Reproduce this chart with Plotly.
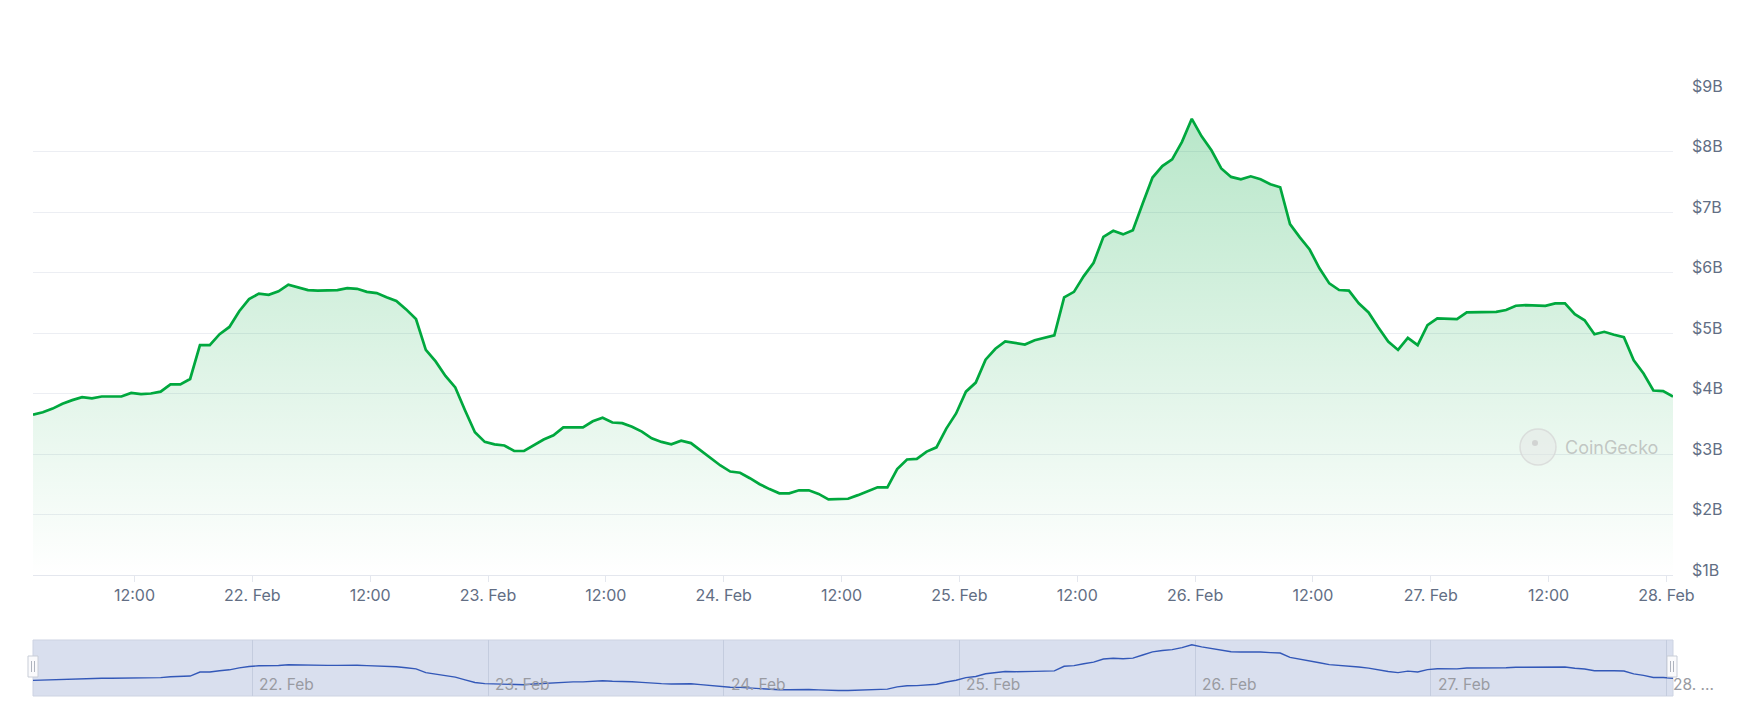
import plotly.graph_objects as go
import pandas as pd

# ---------------- data ----------------
start_time = "2025-02-21 01:40"
volume_billion = [
    3.65, 3.69, 3.75, 3.83, 3.89, 3.94, 3.92, 3.95, 3.95, 3.95, 4.01, 3.99, 4.00, 4.03,
    4.15, 4.15, 4.24, 4.80, 4.80, 4.98, 5.10, 5.36, 5.56, 5.65, 5.63, 5.69, 5.80, 5.76,
    5.71, 5.70, 5.71, 5.71, 5.74, 5.73, 5.68, 5.66, 5.59, 5.53, 5.39, 5.23, 4.72, 4.53,
    4.29,
    4.10, 3.72, 3.36, 3.20, 3.16, 3.14, 3.05, 3.05, 3.14, 3.24, 3.31, 3.44, 3.44, 3.44,
    3.54, 3.60, 3.52, 3.51, 3.45, 3.37, 3.26, 3.20, 3.16, 3.22, 3.18, 3.06, 2.93, 2.81,
    2.71, 2.69, 2.60, 2.50, 2.42, 2.35, 2.35, 2.40, 2.40, 2.34, 2.25, 2.25, 2.26, 2.32,
    2.39, 2.45, 2.45, 2.75, 2.91, 2.92, 3.04, 3.11, 3.42, 3.67, 4.03, 4.18, 4.56, 4.74,
    4.86, 4.84, 4.81, 4.88, 4.92, 4.96, 5.59, 5.68, 5.94, 6.16, 6.59, 6.69, 6.63, 6.70,
    7.14, 7.57, 7.76, 7.87, 8.16, 8.54, 8.25, 8.02, 7.72, 7.58, 7.54, 7.59, 7.54, 7.46,
    7.41, 6.80, 6.58, 6.38, 6.07, 5.82, 5.71, 5.70, 5.49, 5.34, 5.09, 4.86, 4.72, 4.92,
    4.80, 5.13, 5.24, 5.23, 5.23, 5.34, 5.34, 5.35, 5.35, 5.38, 5.45, 5.46, 5.46, 5.45,
    5.49, 5.49, 5.31, 5.21, 4.98, 5.02, 4.97, 4.93, 4.55, 4.33, 4.05, 4.04, 3.95,
]
times = pd.date_range(start_time, periods=len(volume_billion), freq="h")

y_tick_values = [1, 2, 3, 4, 5, 6, 7, 8, 9]
y_tick_labels = ["$1B", "$2B", "$3B", "$4B", "$5B", "$6B", "$7B", "$8B", "$9B"]

x_tick_values = list(pd.date_range("2025-02-21 12:00", "2025-02-28 00:00", freq="12h"))
x_tick_labels = ["12:00", "22. Feb", "12:00", "23. Feb", "12:00", "24. Feb", "12:00",
                 "25. Feb", "12:00", "26. Feb", "12:00", "27. Feb", "12:00", "28. Feb"]

nav_day_values = list(pd.date_range("2025-02-22", "2025-02-28", freq="D"))
nav_day_labels = ["22. Feb", "23. Feb", "24. Feb", "25. Feb", "26. Feb", "27. Feb", "28. ..."]

# ---------------- geometry ----------------
# the page body has an 8px margin, so the figure is sized to fit the 1755x707 window
OFF = 8
W, H = 1755 - 2 * OFF, 707 - 2 * OFF
ML, MT = 33 - OFF, 91 - OFF
MR = W - (1673 - OFF)
MB = H - (696 - OFF)
PW, PH = W - ML - MR, H - MT - MB


def px_x(p):
    """page pixel x -> paper x"""
    return (p - OFF - ML) / PW


def px_y(p):
    """page pixel y -> paper y"""
    return (H - MB - (p - OFF)) / PH


main_bottom = px_y(575)
nav_top = px_y(640)

FONT = "Inter, Roboto, sans-serif"
TICK_COLOR = "rgb(98,110,132)"
GREEN = "#00a83e"

fig = go.Figure()

fig.add_trace(go.Scatter(
    x=times, y=volume_billion, mode="lines",
    line=dict(color=GREEN, width=2.7),
    fill="tozeroy",
    fillgradient=dict(type="vertical",
                      colorscale=[[0, "rgba(0,168,62,0.0)"], [1, "rgba(0,168,62,0.28)"]],
                      start=1, stop=max(volume_billion)),
    hoverinfo="skip", showlegend=False,
))

fig.add_trace(go.Scatter(
    x=times, y=volume_billion, mode="lines", xaxis="x2", yaxis="y2",
    line=dict(color="#3358b8", width=1.4),
    hoverinfo="skip", showlegend=False,
))

shapes = [
    # navigator background / mask
    dict(type="rect", xref="x2 domain", yref="y2 domain", x0=0, x1=1, y0=0, y1=1,
         fillcolor="rgb(217,223,238)", line=dict(color="rgb(205,211,226)", width=1),
         layer="below"),
    # watermark logo circle
    dict(type="circle", xref="paper", yref="paper",
         x0=px_x(1520), x1=px_x(1556), y0=px_y(465), y1=px_y(429),
         fillcolor="rgba(228,228,228,0.45)", line=dict(color="rgba(212,212,212,0.7)", width=1.5)),
    dict(type="circle", xref="paper", yref="paper",
         x0=px_x(1532), x1=px_x(1538), y0=px_y(446), y1=px_y(440),
         fillcolor="rgba(200,200,200,0.7)", line=dict(width=0)),
]

# navigator handles
for cx in (33, 1672):
    shapes.append(dict(type="rect", xref="paper", yref="paper",
                       x0=px_x(cx - 5), x1=px_x(cx + 5), y0=px_y(677), y1=px_y(656),
                       fillcolor="rgb(250,250,252)", line=dict(color="rgb(200,205,215)", width=1)))
    for dx in (-1.5, 1.5):
        shapes.append(dict(type="line", xref="paper", yref="paper",
                           x0=px_x(cx + dx), x1=px_x(cx + dx), y0=px_y(672), y1=px_y(661),
                           line=dict(color="rgb(175,180,190)", width=1)))

annotations = [
    dict(text="CoinGecko", xref="paper", yref="paper", x=px_x(1563), y=px_y(448),
         xanchor="left", yanchor="middle", showarrow=False,
         font=dict(family=FONT, size=18, color="rgba(165,165,165,0.6)")),
]
for xv, lab in zip(nav_day_values, nav_day_labels):
    annotations.append(dict(text=lab, xref="x2", yref="y2 domain", x=xv, y=0.2,
                            xanchor="left", yanchor="middle", xshift=5, showarrow=False,
                            font=dict(family=FONT, size=15.5, color="rgb(153,155,162)")))

fig.update_layout(
    width=W, height=H,
    margin=dict(l=ML, r=MR, t=MT, b=MB, autoexpand=False),
    paper_bgcolor="white", plot_bgcolor="rgba(0,0,0,0)",
    showlegend=False,
    font=dict(family=FONT),
    xaxis=dict(
        domain=[0, 1], anchor="y", range=[times[0], times[-1]],
        showgrid=False, zeroline=False,
        showline=True, linecolor="rgb(228,231,238)", linewidth=1,
        ticks="outside", ticklen=6, tickcolor="rgb(228,231,238)", tickwidth=1,
        tickmode="array", tickvals=x_tick_values, ticktext=x_tick_labels,
        tickfont=dict(family=FONT, size=16, color=TICK_COLOR),
    ),
    yaxis=dict(
        domain=[main_bottom, 1], anchor="x", range=[1, 9], side="right",
        showgrid=True, gridcolor="rgb(236,238,243)", gridwidth=1,
        zeroline=False, showline=False, ticks="",
        tickmode="array", tickvals=y_tick_values, ticktext=y_tick_labels,
        tickfont=dict(family=FONT, size=16, color=TICK_COLOR),
        ticklabelstandoff=18, ticklabelshift=-5,
    ),
    xaxis2=dict(
        domain=[0, 1], anchor="y2", range=[times[0], times[-1]],
        showgrid=True, gridcolor="rgb(196,204,222)", gridwidth=1,
        tickmode="array", tickvals=nav_day_values,
        showticklabels=False, zeroline=False, showline=False, ticks="",
    ),
    yaxis2=dict(
        domain=[0, nav_top], anchor="x2", range=[1.5, 9.2],
        showgrid=False, showticklabels=False, zeroline=False, showline=False,
    ),
    shapes=shapes,
    annotations=annotations,
)

fig.write_html("out.html")
